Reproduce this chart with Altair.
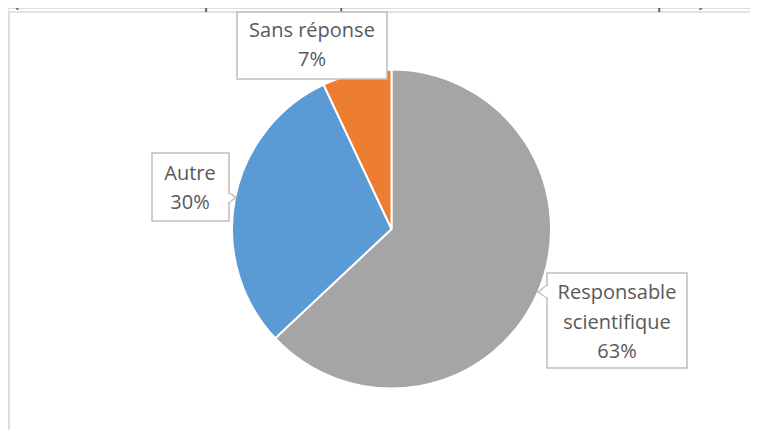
import altair as alt
import pandas as pd

# ---- data ----
categories = ["Responsable scientifique", "Autre", "Sans réponse"]
values = [63, 30, 7]
colors = ["#A5A5A5", "#5B9BD5", "#ED7D31"]
title_text = "(si différente de la personne responsable des activités scientifiques)"

# ---- layout (page pixel coords, converted to plot coords by OFF) ----
OFF = 8
W, H = 742, 422
CX, CY, R = 391.5, 229, 159.5

label_lines = [["Responsable", "scientifique", "63%"], ["Autre", "30%"], ["Sans réponse", "7%"]]
box_x1 = [547, 152, 237]
box_x2 = [687, 229, 387]
box_y1 = [273, 153, 12]
box_y2 = [368, 221, 79]
text_cx = [617, 190, 312]
text_base = [[299, 329, 358], [180, 209], [37, 66]]

# pointers: (base_x, base_y1, base_y2, tip_x, tip_y)
pointers = [(547, 285, 298, 538, 292), (229, 193, 203, 236, 197)]

pie_df = pd.DataFrame({"cat": categories, "value": values, "order": [0, 1, 2]})

pie = alt.Chart(pie_df).mark_arc(stroke="white", strokeWidth=2, outerRadius=R).encode(
    theta=alt.Theta("value:Q", stack=True),
    order=alt.Order("order:Q"),
    color=alt.Color("cat:N", scale=alt.Scale(domain=categories, range=colors), legend=None),
    x=alt.value(CX - OFF),
    y=alt.value(CY - OFF),
)

box_df = pd.DataFrame({
    "x1": [v - OFF for v in box_x1], "x2": [v - OFF for v in box_x2],
    "y1": [v - OFF for v in box_y1], "y2": [v - OFF for v in box_y2],
})
boxes = alt.Chart(box_df).mark_rect(fill="white", stroke="#BFBFBF", strokeWidth=1.5).encode(
    x=alt.X("x1:Q", scale=None), x2="x2:Q",
    y=alt.Y("y1:Q", scale=None), y2="y2:Q",
)

# pointer shapes
prow = []
crow = []
for i, (bx, by1, by2, tx, ty) in enumerate(pointers):
    for j, (px, py) in enumerate([(bx, by1), (tx, ty), (bx, by2)]):
        prow.append({"pid": i, "k": j, "px": px - OFF, "py": py - OFF})
    crow.append({"cx": bx - OFF, "cy1": by1 - OFF + 1, "cy2": by2 - OFF - 1})
ptr_df = pd.DataFrame(prow)
cover_df = pd.DataFrame(crow)
cover = alt.Chart(cover_df).mark_rule(color="white", strokeWidth=3).encode(
    x=alt.X("cx:Q", scale=None), y=alt.Y("cy1:Q", scale=None), y2="cy2:Q"
)
ptr = alt.Chart(ptr_df).mark_line(color="#BFBFBF", strokeWidth=1.5).encode(
    x=alt.X("px:Q", scale=None), y=alt.Y("py:Q", scale=None),
    detail="pid:N", order="k:Q",
)

trow = []
for lines, cx, bases in zip(label_lines, text_cx, text_base):
    for t, b in zip(lines, bases):
        trow.append({"t": t, "tx": cx - OFF, "ty": b - OFF})
txt_df = pd.DataFrame(trow)
texts = alt.Chart(txt_df).mark_text(
    font="Open Sans", fontSize=20, color="#595959", align="center", baseline="alphabetic"
).encode(x=alt.X("tx:Q", scale=None), y=alt.Y("ty:Q", scale=None), text="t:N")

title_df = pd.DataFrame({"t": [title_text], "tx": [13 - OFF], "ty": [7 - OFF]})
title = alt.Chart(title_df).mark_text(
    font="Open Sans", fontSize=22, color="#595959", align="left", baseline="alphabetic"
).encode(x=alt.X("tx:Q", scale=None), y=alt.Y("ty:Q", scale=None), text="t:N")

frame_df = pd.DataFrame({"x1": [9 - OFF, 9 - OFF], "x2": [W + 20, 9 - OFF],
                         "y1": [12 - OFF, 12 - OFF], "y2": [12 - OFF, H + 20]})
frame = alt.Chart(frame_df).mark_rule(color="#D9D9D9", strokeWidth=1.5).encode(
    x=alt.X("x1:Q", scale=None), x2="x2:Q", y=alt.Y("y1:Q", scale=None), y2="y2:Q"
)

chart = alt.layer(frame, title, pie, boxes, ptr, cover, texts).properties(
    width=W, height=H, padding=0, autosize=alt.AutoSizeParams(type="none")
).configure_view(stroke=None).configure(background="white")

chart.save("out.html", embed_options={"renderer": "svg", "actions": False})
